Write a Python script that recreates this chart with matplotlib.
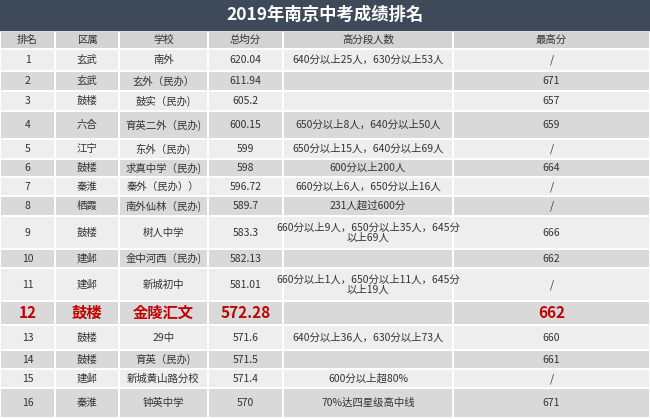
import matplotlib.pyplot as plt
from matplotlib import font_manager
from matplotlib.patches import Rectangle

# pick whichever CJK family the font manager actually knows about
cjk = [f.name for f in font_manager.fontManager.ttflist if 'CJK' in f.name]
pref = [n for n in cjk if 'SC' in n] or cjk
plt.rcParams['font.family'] = (pref[:1] if pref else []) + ['DejaVu Sans']

title = '2019年南京中考成绩排名'
headers = ['排名', '区属', '学校', '总均分', '高分段人数', '最高分']
ranks = [str(i) for i in range(1, 17)]
districts = ['玄武', '玄武', '鼓楼', '六合', '江宁', '鼓楼', '秦淮', '栖霞',
             '鼓楼', '建邺', '建邺', '鼓楼', '鼓楼', '鼓楼', '建邺', '秦淮']
schools = ['南外', '玄外（民办）', '鼓实（民办)', '育英二外（民办)', '东外（民办)',
           '求真中学（民办)', '秦外（民办））', '南外仙林（民办)', '树人中学',
           '金中河西（民办)', '新城初中', '金陵汇文', '29中', '育英（民办)',
           '新城黄山路分校', '钟英中学']
avg_scores = ['620.04', '611.94', '605.2', '600.15', '599', '598', '596.72',
              '589.7', '583.3', '582.13', '581.01', '572.28', '571.6', '571.5',
              '571.4', '570']
high_counts = ['640分以上25人，630分以上53人', '', '', '650分以上8人，640分以上50人',
               '650分以上15人，640分以上69人', '600分以上200人',
               '660分以上6人，650分以上16人', '231人超过600分',
               '660分以上9人，650分以上35人，645分\n以上69人', '',
               '660分以上1人，650分以上11人，645分\n以上19人', '',
               '640分以上36人，630分以上73人', '', '600分以上超80%', '70%达四星级高中线']
max_scores = ['/', '671', '657', '659', '/', '664', '/', '/', '666', '662', '/',
              '662', '660', '661', '/', '671']
highlight_row = 11

# layout (pixels)
col_edges = [0, 55, 119, 208, 283, 453, 650]
row_edges = [31, 49, 71, 91, 111, 139, 159, 177, 196, 216, 249, 268, 301, 325, 350, 369, 388, 418]

fig = plt.figure(figsize=(6.5, 4.19), dpi=100)
ax = fig.add_axes([0, 0, 1, 1])
ax.set_xlim(0, 650)
ax.set_ylim(419, 0)
ax.axis('off')

ax.add_patch(Rectangle((0, 0), 650, 30, color='#3e4a5a'))
ax.text(325, 15, title, color='white', fontsize=12.5, fontweight='bold',
        ha='center', va='center')

rows = [headers] + [list(r) for r in zip(ranks, districts, schools, avg_scores,
                                         high_counts, max_scores)]
for i, row in enumerate(rows):
    y0, y1 = row_edges[i], row_edges[i + 1]
    if i == 0:
        bg = '#d3d3d3'
    elif i % 2 == 1:
        bg = '#eeeeee'
    else:
        bg = '#d9d9d9'
    for j, txt in enumerate(row):
        x0, x1 = col_edges[j], col_edges[j + 1]
        ax.add_patch(Rectangle((x0 + 1, y0 + 1), x1 - x0 - 2, y1 - y0 - 2,
                               color=bg, lw=0))
        hl = (i - 1) == highlight_row
        ax.text((x0 + x1) / 2, (y0 + y1) / 2, txt,
                color='#c00000' if hl else '#333333',
                fontsize=11 if hl else 7.5,
                fontweight='bold' if hl else 'normal',
                ha='center', va='center', linespacing=1.0)

fig.savefig('out.png', dpi=100)
